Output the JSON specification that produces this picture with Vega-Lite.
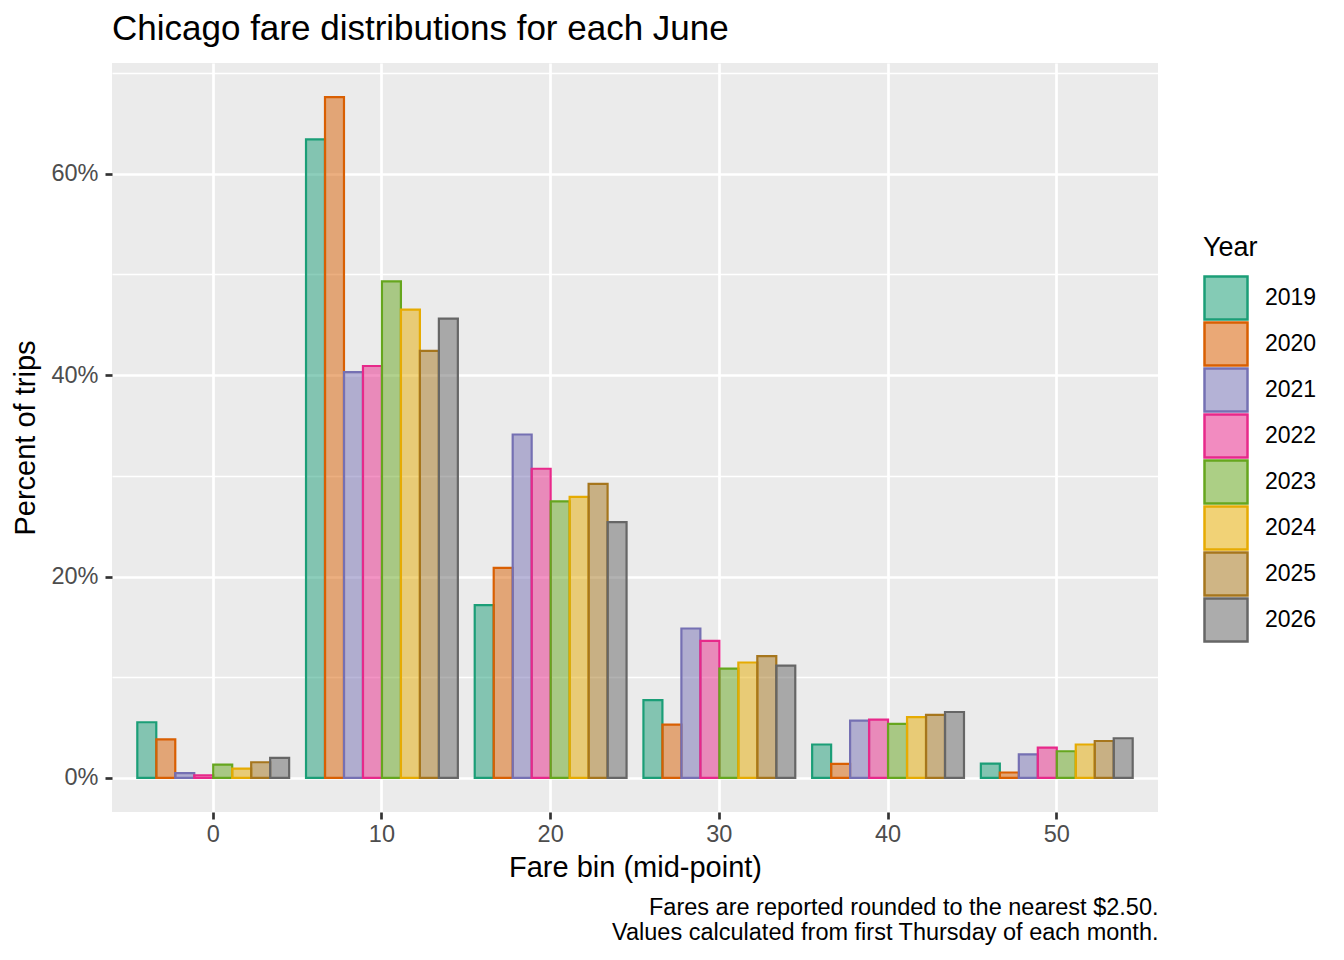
{
  "$schema": "https://vega.github.io/schema/vega-lite/v6.json",
  "width": 1046,
  "height": 749,
  "autosize": {"type": "none"},
  "padding": {"left": 112, "top": 63, "right": 186, "bottom": 148},
  "background": "white",
  "title": {
    "text": "Chicago fare distributions for each June",
    "anchor": "start",
    "frame": "group",
    "fontSize": 35,
    "fontWeight": "normal",
    "color": "black",
    "offset": 14
  },
  "data": {
    "values": [
      {"bin": "0", "Year": "2019", "pct": 5.53},
      {"bin": "0", "Year": "2020", "pct": 3.84},
      {"bin": "0", "Year": "2021", "pct": 0.47},
      {"bin": "0", "Year": "2022", "pct": 0.27},
      {"bin": "0", "Year": "2023", "pct": 1.33},
      {"bin": "0", "Year": "2024", "pct": 0.93},
      {"bin": "0", "Year": "2025", "pct": 1.56},
      {"bin": "0", "Year": "2026", "pct": 1.99},
      {"bin": "10", "Year": "2019", "pct": 63.4},
      {"bin": "10", "Year": "2020", "pct": 67.6},
      {"bin": "10", "Year": "2021", "pct": 40.3},
      {"bin": "10", "Year": "2022", "pct": 40.9},
      {"bin": "10", "Year": "2023", "pct": 49.3},
      {"bin": "10", "Year": "2024", "pct": 46.5},
      {"bin": "10", "Year": "2025", "pct": 42.4},
      {"bin": "10", "Year": "2026", "pct": 45.6},
      {"bin": "20", "Year": "2019", "pct": 17.15},
      {"bin": "20", "Year": "2020", "pct": 20.85},
      {"bin": "20", "Year": "2021", "pct": 34.1},
      {"bin": "20", "Year": "2022", "pct": 30.7},
      {"bin": "20", "Year": "2023", "pct": 27.45},
      {"bin": "20", "Year": "2024", "pct": 27.9},
      {"bin": "20", "Year": "2025", "pct": 29.2},
      {"bin": "20", "Year": "2026", "pct": 25.4},
      {"bin": "30", "Year": "2019", "pct": 7.72},
      {"bin": "30", "Year": "2020", "pct": 5.3},
      {"bin": "30", "Year": "2021", "pct": 14.84},
      {"bin": "30", "Year": "2022", "pct": 13.6},
      {"bin": "30", "Year": "2023", "pct": 10.86},
      {"bin": "30", "Year": "2024", "pct": 11.46},
      {"bin": "30", "Year": "2025", "pct": 12.1},
      {"bin": "30", "Year": "2026", "pct": 11.16},
      {"bin": "40", "Year": "2019", "pct": 3.32},
      {"bin": "40", "Year": "2020", "pct": 1.39},
      {"bin": "40", "Year": "2021", "pct": 5.7},
      {"bin": "40", "Year": "2022", "pct": 5.8},
      {"bin": "40", "Year": "2023", "pct": 5.36},
      {"bin": "40", "Year": "2024", "pct": 6.03},
      {"bin": "40", "Year": "2025", "pct": 6.26},
      {"bin": "40", "Year": "2026", "pct": 6.55},
      {"bin": "50", "Year": "2019", "pct": 1.43},
      {"bin": "50", "Year": "2020", "pct": 0.54},
      {"bin": "50", "Year": "2021", "pct": 2.35},
      {"bin": "50", "Year": "2022", "pct": 3.02},
      {"bin": "50", "Year": "2023", "pct": 2.65},
      {"bin": "50", "Year": "2024", "pct": 3.32},
      {"bin": "50", "Year": "2025", "pct": 3.67},
      {"bin": "50", "Year": "2026", "pct": 3.94}
    ]
  },
  "layer": [
    {
      "mark": {"type": "bar", "fillOpacity": 0.5, "strokeWidth": 2.2},
      "encoding": {
        "x": {
          "field": "bin",
          "type": "ordinal",
          "sort": ["0", "10", "20", "30", "40", "50"],
          "scale": {"paddingInner": 0.1, "paddingOuter": 0.15},
          "title": "Fare bin (mid-point)",
          "axis": {
            "orient": "bottom",
            "labelAngle": 0,
            "bandPosition": 0.5,
            "grid": true,
            "gridColor": "white",
            "gridWidth": 2.7,
            "domain": false,
            "tickSize": 7,
            "tickWidth": 2.7,
            "tickColor": "#333333",
            "labelFontSize": 23.5,
            "labelColor": "#4D4D4D",
            "labelPadding": 3,
            "titleFontSize": 29,
            "titleFontWeight": "normal",
            "titleColor": "black",
            "titlePadding": 8
          }
        },
        "xOffset": {
          "field": "Year",
          "type": "nominal",
          "scale": {"paddingInner": 0, "paddingOuter": 0}
        },
        "y": {
          "field": "pct",
          "type": "quantitative",
          "scale": {"domain": [-3.38, 70.98], "nice": false, "zero": false},
          "title": "Percent of trips",
          "axis": {
            "values": [0, 10, 20, 30, 40, 50, 60, 70],
            "labelExpr": "datum.value % 20 === 0 ? datum.value + '%' : ''",
            "labelOverlap": false,
            "labelFontSize": 23.5,
            "labelColor": "#4D4D4D",
            "labelPadding": 7,
            "tickSize": 7,
            "tickWidth": 2.7,
            "tickColor": "#333333",
            "tickOpacity": {"condition": {"test": "datum.value % 20 === 0", "value": 1}, "value": 0},
            "grid": true,
            "gridColor": "white",
            "gridWidth": {"condition": {"test": "datum.value % 20 === 0", "value": 2.7}, "value": 1.4},
            "domain": false,
            "titleFontSize": 29,
            "titleFontWeight": "normal",
            "titleColor": "black",
            "titlePadding": 10
          }
        },
        "y2": {"datum": 0},
        "fill": {
          "field": "Year",
          "type": "nominal",
          "scale": {"range": ["#1B9E77", "#D95F02", "#7570B3", "#E7298A", "#66A61E", "#E6AB02", "#A6761D", "#666666"]},
          "legend": {
            "orient": "none",
            "legendX": 1091,
            "legendY": 172,
            "title": "Year",
            "titleFontSize": 27,
            "titleFontWeight": "normal",
            "titleColor": "black",
            "titlePadding": 13,
            "labelFontSize": 23,
            "labelColor": "black",
            "labelOffset": 16,
            "symbolType": "square",
            "symbolSize": 1849,
            "symbolStrokeWidth": 2.5,
            "clipHeight": 46,
            "rowPadding": 0,
            "padding": 0,
            "encode": {"symbols": {"update": {"fillOpacity": {"value": 0.54}}}}
          }
        },
        "stroke": {
          "field": "Year",
          "type": "nominal",
          "scale": {"range": ["#1B9E77", "#D95F02", "#7570B3", "#E7298A", "#66A61E", "#E6AB02", "#A6761D", "#666666"]}
        }
      }
    },
    {
      "mark": {"type": "bar", "opacity": 0},
      "encoding": {
        "x": {
          "field": "bin",
          "type": "ordinal",
          "sort": ["0", "10", "20", "30", "40", "50"],
          "axis": {
            "orient": "bottom",
            "labels": false,
            "ticks": false,
            "domain": false,
            "grid": false,
            "title": ["Fares are reported rounded to the nearest $2.50.", "Values calculated from first Thursday of each month."],
            "titleAnchor": "end",
            "titleAlign": "right",
            "titleFontSize": 23.5,
            "titleFontWeight": "normal",
            "titleColor": "black",
            "titleLineHeight": 25,
            "titlePadding": 83
          }
        }
      }
    }
  ],
  "resolve": {"axis": {"x": "independent"}},
  "config": {
    "font": "Liberation Sans",
    "view": {"fill": "#EBEBEB", "stroke": null}
  }
}
